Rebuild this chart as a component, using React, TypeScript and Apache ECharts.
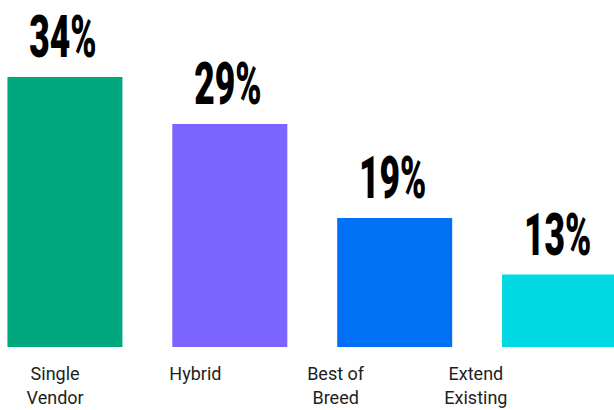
import React, { useEffect, useRef } from "react";
import * as echarts from "echarts";

const categories = ["Single\nVendor", "Hybrid", "Best of\nBreed", "Extend\nExisting"];
const values = [34, 29, 19, 13];
const colors = ["#00A87E", "#7B64FF", "#0070F5", "#00D9E3"];

const OFFSET = 40;
const CHART_W = 700;

export default function App() {
  const ref = useRef<HTMLDivElement>(null);
  useEffect(() => {
    if (!ref.current) return;
    const chart = echarts.init(ref.current, null, { renderer: "svg" });
    chart.setOption({
      animation: false,
      grid: [
        { left: OFFSET - 17.5, right: CHART_W - OFFSET - 642, top: 77, bottom: 63 },
        { left: OFFSET - 15, right: CHART_W - OFFSET - 546, top: 77, bottom: 63 },
      ],
      xAxis: [
        {
          type: "category",
          gridIndex: 0,
          data: categories,
          axisLine: { show: false },
          axisTick: { show: false },
          axisLabel: { show: false },
        },
        {
          type: "category",
          gridIndex: 1,
          data: categories,
          axisLine: { show: false },
          axisTick: { show: false },
          axisLabel: {
            show: true,
            margin: 14,
            fontFamily: "Roboto",
            fontSize: 18,
            lineHeight: 24,
            color: "#1e1e1e",
          },
        },
      ],
      yAxis: [
        { type: "value", gridIndex: 0, min: 5.3, max: 34, show: false },
        { type: "value", gridIndex: 1, min: 0, max: 1, show: false },
      ],
      series: [
        {
          type: "bar",
          xAxisIndex: 0,
          yAxisIndex: 0,
          barWidth: 115,
          data: values.map((v, i) => ({ value: v, itemStyle: { color: colors[i] } })),
        },
        {
          type: "custom",
          xAxisIndex: 0,
          yAxisIndex: 0,
          data: values.map((v, i) => [i, v]),
          renderItem: (params: any, api: any) => {
            const p = api.coord([api.value(0), api.value(1)]);
            return {
              type: "text",
              x: p[0] - 2,
              y: p[1] - 40,
              scaleX: 0.6,
              style: {
                text: api.value(1) + "%",
                fontFamily: "Roboto",
                fontWeight: 900,
                fontSize: 59,
                fill: "#000000",
                align: "center",
                verticalAlign: "middle",
              },
            };
          },
        },
      ],
    });
    return () => chart.dispose();
  }, []);
  return (
    <div
      style={{
        position: "fixed",
        left: 0,
        top: 0,
        width: 614,
        height: 410,
        overflow: "hidden",
        background: "#fff",
      }}
    >
      <div
        ref={ref}
        style={{ position: "absolute", left: -OFFSET, top: 0, width: CHART_W, height: 410 }}
      />
    </div>
  );
}
